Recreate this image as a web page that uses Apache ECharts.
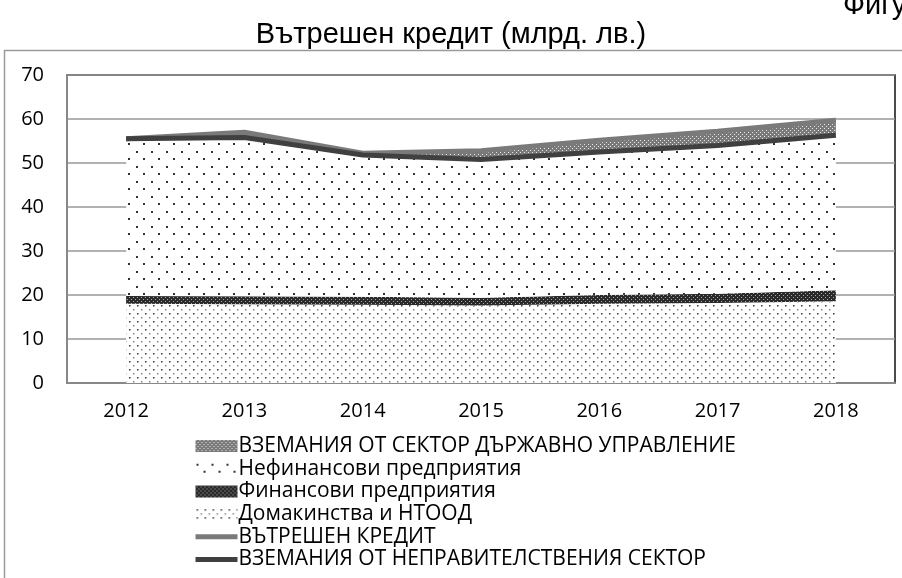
<!DOCTYPE html>
<html>
<head>
<meta charset="utf-8">
<script src="https://cdn.jsdelivr.net/npm/echarts@6/dist/echarts.min.js"></script>
<style>
  html, body { margin: 0; padding: 0; background: #fff; }
  #chart { width: 902px; height: 578px; }
</style>
</head>
<body>
<div id="chart"></div>
<script>
// years on the category axis
const years = ['2012', '2013', '2014', '2015', '2016', '2017', '2018'];

// stacked areas, bn BGN
const households = [18.0, 17.9, 17.8, 17.6, 18.0, 18.2, 18.6];
const financial = [1.8, 1.8, 1.8, 1.8, 2.0, 2.1, 2.5];
const nonFinancial = [35.7, 36.1, 32.2, 31.4, 32.5, 33.7, 35.2];
const government = [0.0, 1.2, 0.4, 2.0, 2.7, 3.2, 3.4];

// lines
const domesticCredit = [55.5, 57.0, 52.2, 52.8, 55.2, 57.2, 59.7];
const nonGovClaims = [55.5, 55.8, 51.8, 50.8, 52.5, 54.0, 56.3];

const yTicks = [0, 10, 20, 30, 40, 50, 60, 70];

const names = {
  gov: 'ВЗЕМАНИЯ ОТ СЕКТОР ДЪРЖАВНО УПРАВЛЕНИЕ',
  nonfin: 'Нефинансови предприятия',
  fin: 'Финансови предприятия',
  hh: 'Домакинства и НТООД',
  total: 'ВЪТРЕШЕН КРЕДИТ',
  nongov: 'ВЗЕМАНИЯ ОТ НЕПРАВИТЕЛСТВЕНИЯ СЕКТОР'
};

// small canvas tiles to mimic the excel hatch fills
function tile(w, h, draw) {
  const c = document.createElement('canvas');
  c.width = w;
  c.height = h;
  const ctx = c.getContext('2d');
  ctx.fillStyle = '#fff';
  ctx.fillRect(0, 0, w, h);
  draw(ctx);
  return { image: c, repeat: 'repeat' };
}

const sparseDots = tile(15, 15, ctx => {
  ctx.fillStyle = '#333';
  ctx.fillRect(1, 1, 2, 2);
  ctx.fillRect(8, 8, 2, 2);
});

const denseDots = tile(8, 8, ctx => {
  ctx.fillStyle = '#333';
  ctx.fillRect(1, 1, 1.5, 1.5);
  ctx.fillStyle = '#888';
  ctx.fillRect(5, 5, 1.5, 1.5);
});

const darkCheck = tile(4, 4, ctx => {
  ctx.fillStyle = '#2a2a2a';
  ctx.fillRect(0, 0, 4, 4);
  ctx.fillStyle = '#aaa';
  ctx.fillRect(1, 1, 1, 1);
  ctx.fillRect(3, 3, 1, 1);
});

const grayCheck = tile(4, 4, ctx => {
  ctx.fillStyle = '#7a7a7a';
  ctx.fillRect(0, 0, 4, 4);
  ctx.fillStyle = '#e6e6e6';
  ctx.fillRect(0, 0, 1, 1);
  ctx.fillRect(2, 2, 1, 1);
});

function areaSeries(name, data, fill) {
  return {
    name: name,
    type: 'line',
    stack: 'credit',
    data: data,
    symbol: 'none',
    lineStyle: { width: 0 },
    areaStyle: { color: fill, opacity: 1 },
    itemStyle: { color: fill },
    z: 2
  };
}

function lineSeries(name, data, color, z) {
  return {
    name: name,
    type: 'line',
    data: data,
    symbol: 'none',
    lineStyle: { width: 5, color: color },
    itemStyle: { color: color },
    z: z
  };
}

const chart = echarts.init(document.getElementById('chart'));

chart.setOption({
  animation: false,
  textStyle: { fontFamily: 'Open Sans' },
  title: [
    {
      text: 'Вътрешен кредит (млрд. лв.)',
      left: 'center',
      top: 15,
      textStyle: { fontFamily: 'Liberation Sans', fontSize: 29, fontWeight: 'normal', color: '#000' }
    },
    {
      text: 'Фигура',
      left: 838,
      top: -14,
      textStyle: { fontFamily: 'Liberation Sans', fontSize: 29, fontWeight: 'normal', color: '#000' }
    }
  ],
  graphic: [{
    type: 'rect',
    shape: { x: 4.5, y: 50.5, width: 1000, height: 1000 },
    style: { fill: 'none', stroke: '#9a9a9a', lineWidth: 1.5 },
    silent: true
  }],
  grid: {
    left: 67, right: 7, top: 75, bottom: 195,
    show: true,
    borderColor: '#111',
    borderWidth: 1.5
  },
  legend: {
    orient: 'vertical',
    left: 188,
    top: 430,
    height: 160,
    itemWidth: 42,
    itemHeight: 12,
    itemGap: 0.7,
    textStyle: { fontFamily: 'Open Sans', fontSize: 21, lineHeight: 22, color: '#000', padding: [0, 0, 0, -4] },
    data: [
      { name: names.gov, icon: 'rect', itemStyle: { color: grayCheck } },
      { name: names.nonfin, icon: 'rect', itemStyle: { color: sparseDots } },
      { name: names.fin, icon: 'rect', itemStyle: { color: darkCheck } },
      { name: names.hh, icon: 'rect', itemStyle: { color: denseDots } },
      { name: names.total, itemStyle: { opacity: 0 }, lineStyle: { width: 5 } },
      { name: names.nongov, itemStyle: { opacity: 0 }, lineStyle: { width: 5 } }
    ]
  },
  xAxis: {
    type: 'category',
    data: years,
    boundaryGap: true,
    axisLine: { lineStyle: { color: '#888', width: 2 } },
    axisTick: { show: false },
    axisLabel: { fontFamily: 'Open Sans', fontSize: 20, color: '#000', margin: 18 }
  },
  yAxis: {
    type: 'value',
    min: yTicks[0],
    max: yTicks[yTicks.length - 1],
    interval: 10,
    axisLine: { show: true, lineStyle: { color: '#888', width: 2 } },
    axisTick: { show: false },
    splitLine: { lineStyle: { color: '#999', width: 1.5 } },
    axisLabel: { fontFamily: 'Open Sans', fontSize: 20, color: '#000', margin: 23 }
  },
  series: [
    areaSeries(names.hh, households, denseDots),
    areaSeries(names.fin, financial, darkCheck),
    areaSeries(names.nonfin, nonFinancial, sparseDots),
    areaSeries(names.gov, government, grayCheck),
    lineSeries(names.total, domesticCredit, '#7a7a7a', 4),
    lineSeries(names.nongov, nonGovClaims, '#404040', 5)
  ]
});
</script>
</body>
</html>
